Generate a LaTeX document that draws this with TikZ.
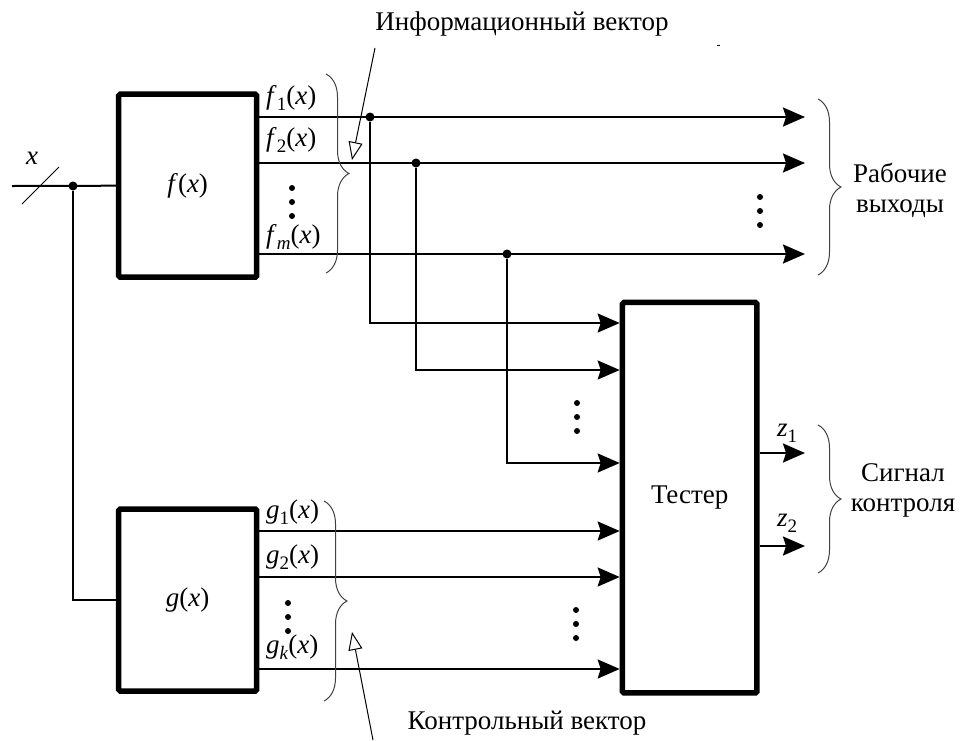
\documentclass[tikz,border=0pt]{standalone}
\usepackage{fontspec}
\setmainfont{LiberationSerif}[Extension=.ttf, UprightFont=*-Regular, ItalicFont=*-Italic, BoldFont=*-Bold, BoldItalicFont=*-BoldItalic]
\usetikzlibrary{arrows.meta,decorations.pathreplacing}

\newcommand{\lbl}{\fontsize{27}{30}\selectfont}
\newcommand{\idx}[1]{\raisebox{-0.22em}{\fontsize{19}{19}\selectfont #1}}
\newcommand{\fn}[2]{\textit{#1}\idx{#2}(\textit{x})}

\begin{document}
\begin{tikzpicture}[
    x=1pt, y=-1pt,
    block/.style={draw, line width=5.5pt, rounded corners=1.5pt, inner sep=0pt, font=\lbl},
    txt/.style={inner sep=0pt, font=\lbl},
    wire/.style={line width=2pt},
    sig/.style={line width=2pt, -{Stealth[length=22pt, width=19pt, inset=3pt]}},
    jdot/.style={circle, fill, inner sep=0pt, minimum size=9pt},
    vbrace/.style={decorate, decoration={brace, amplitude=23pt}, draw=black!75, line width=1pt},
    note/.style={line width=1pt, -{Triangle[open, length=18pt, width=14pt]}}
]
    \useasboundingbox (0,0) rectangle (962,740);

    \node[block, minimum width=138pt, minimum height=183pt] (fbox) at (187.7,185.7) {\textit{f}(\textit{x})};
    \node[block, minimum width=138pt, minimum height=182pt] (gbox) at (187.7,600) {\textit{g}(\textit{x})};
    \node[block, minimum width=134.5pt, minimum height=390.5pt] (tester) at (689.7,497.7) {Тестер};

    \coordinate (xin) at (12,186);
    \coordinate (slashA) at (22,204);
    \coordinate (slashB) at (59,167);
    \node[txt] (xlbl) at (32,158) {\textit{x}};
    \node[jdot] (jx) at (73,186) {};
    \draw[wire] (xin) -- (fbox.west);
    \draw[line width=1pt] (slashA) -- (slashB);
    \draw[wire] (jx) |- (gbox.west);

    \foreach \y/\n in {117/1, 163/2, 254/3} {
        \coordinate (wout\n) at (805,\y);
        \draw[sig] (fbox.east |- wout\n) -- (wout\n);
    }
    \node[jdot] (jf1) at (370,117) {};
    \node[jdot] (jf2) at (416,163) {};
    \node[jdot] (jf3) at (507,254) {};

    \foreach \y/\n in {323/1, 370/2, 463/3, 531/4, 577/5, 669/6}
        \coordinate (row\n) at (0,\y);
    \draw[sig] (jf1) |- (tester.west |- row1);
    \draw[sig] (jf2) |- (tester.west |- row2);
    \draw[sig] (jf3) |- (tester.west |- row3);
    \draw[sig] (gbox.east |- row4) -- (tester.west |- row4);
    \draw[sig] (gbox.east |- row5) -- (tester.west |- row5);
    \draw[sig] (gbox.east |- row6) -- (tester.west |- row6);

    \coordinate (zout1) at (805,453);
    \coordinate (zout2) at (805,546);
    \draw[sig] (tester.east |- zout1) -- (zout1);
    \draw[sig] (tester.east |- zout2) -- (zout2);
    \node[txt] (z1lbl) at (787,433) {\textit{z}\idx{1}};
    \node[txt] (z2lbl) at (787,523) {\textit{z}\idx{2}};

    \node[txt, anchor=west] (f1lbl) at (266,98) {\fn{f}{1}};
    \node[txt, anchor=west] (f2lbl) at (266,140) {\fn{f}{2}};
    \node[txt, anchor=west] (fmlbl) at (266,237) {\fn{f}{\textit{m}}};
    \node[txt, anchor=west] (g1lbl) at (266,512) {\fn{g}{1}};
    \node[txt, anchor=west] (g2lbl) at (266,557) {\fn{g}{2}};
    \node[txt, anchor=west] (gklbl) at (266,647) {\fn{g}{\textit{k}}};

    \foreach \x/\y in {292/188, 288/603, 760/197, 577/403, 576/610}
        \foreach \d in {0,14,28}
            \fill (\x,\y+\d) circle (3pt);

    \draw[vbrace] (326,74) -- (326,273);
    \draw[vbrace] (324,501) -- (324,701);
    \draw[vbrace] (818,99) -- (818,275);
    \draw[vbrace] (818,425) -- (818,573);

    \node[txt, align=center] (worklbl) at (900,190) {Рабочие\\выходы};
    \node[txt, align=center] (ctrlsig) at (903,490) {Сигнал\\контроля};

    \node[txt] (infolbl) at (522,24) {Информационный вектор};
    \node[txt] (ctrllbl) at (527,723) {Контрольный вектор};
    \coordinate (infotail) at (375,48);
    \coordinate (infotip) at (352,160);
    \coordinate (ctrltail) at (373,740);
    \coordinate (ctrltip) at (352,632);
    \draw[note] (infotail) -- (infotip);
    \draw[note] (ctrltail) -- (ctrltip);
    \fill (717,44.5) rectangle (720,46);
\end{tikzpicture}
\end{document}
